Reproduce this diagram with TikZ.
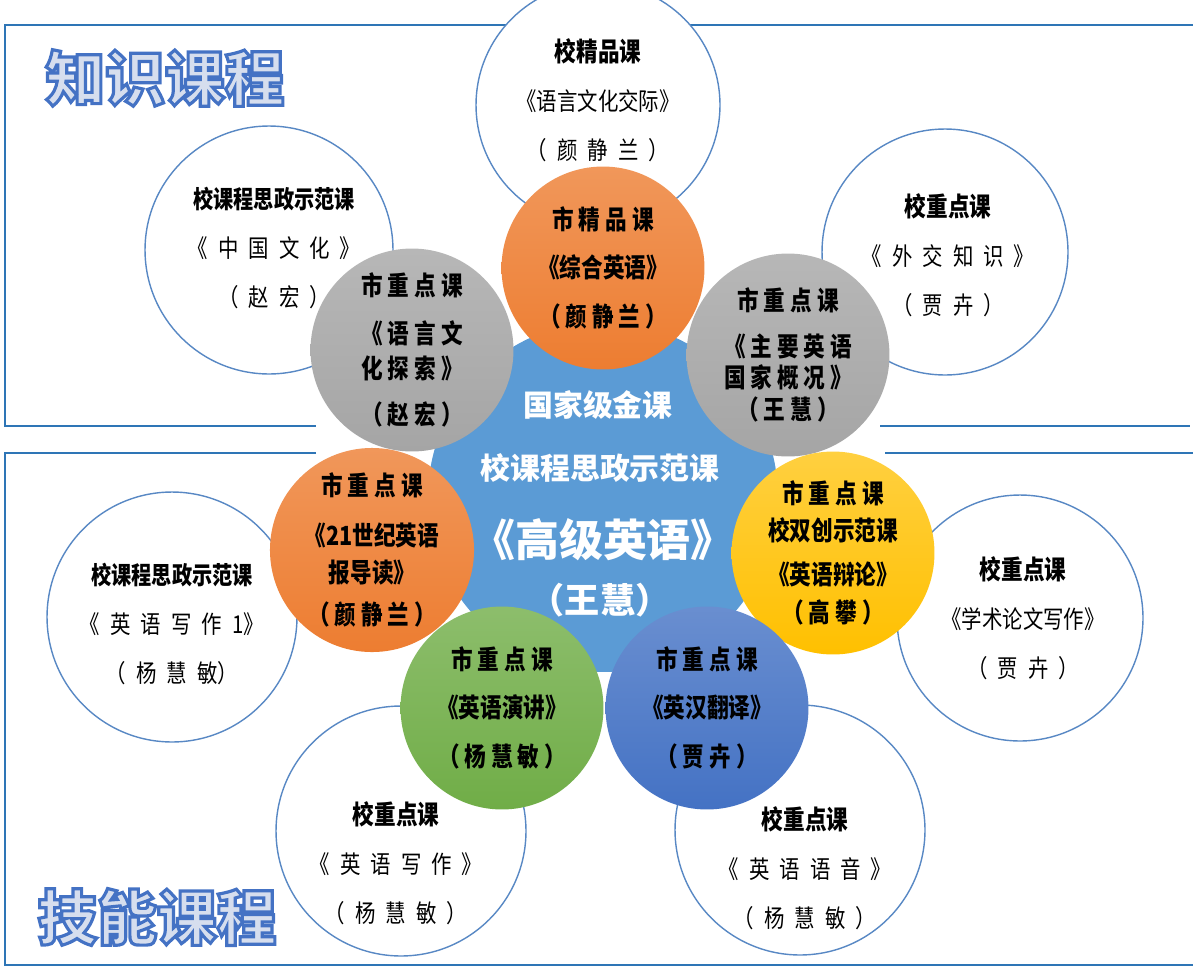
\documentclass[tikz,border=0pt]{standalone}
\usepackage{fontspec}
\setmainfont{Noto Sans CJK SC}
\newfontfamily\cjk{Noto Sans CJK SC}
\newfontfamily\cjknarrow{Noto Sans CJK SC}[FakeStretch=0.82]
\newfontfamily\cjkwide{Noto Sans CJK SC}[FakeStretch=0.83, WordSpace=2.2]
\definecolor{hubblue}{RGB}{91,155,213}
\definecolor{petalorange}{RGB}{237,125,49}
\definecolor{petalgray}{RGB}{165,165,165}
\definecolor{petalyellow}{RGB}{255,192,0}
\definecolor{petalblue}{RGB}{68,114,196}
\definecolor{petalgreen}{RGB}{112,173,71}
\definecolor{ringblue}{RGB}{88,136,196}
\definecolor{boxblue}{RGB}{46,117,182}
\definecolor{titlefill}{RGB}{214,222,238}
% outlined title letters (stroke and fill)
\newcommand{\outlined}[1]{{\color{titlefill}\special{pdf:literal direct 2 Tr 1.8 w 0.267 0.447 0.769 RG}#1\special{pdf:literal direct 0 Tr}}}

\begin{document}
\begin{tikzpicture}[x=0.02cm, y=-0.02cm]
    \tikzstyle{frame} = [draw=boxblue, line width=1.1pt];
    \tikzstyle{ring} = [circle, draw=ringblue, line width=0.8pt, fill=white, minimum size=4.92cm, inner sep=0pt];
    \tikzstyle{ringtext} = [align=center, font=\cjkwide\fontsize{14}{17}\selectfont];
    \tikzstyle{hub} = [circle, fill=hubblue, minimum size=7cm, inner sep=0pt];
    \tikzstyle{hubtext} = [text=white, font=\cjk\bfseries\fontsize{17}{20}\selectfont];
    \tikzstyle{petal} = [circle, minimum size=4.06cm, inner sep=0pt, align=center, text=black,
        font=\cjknarrow\bfseries\fontsize{15}{18}\selectfont];
    \tikzstyle{title} = [font=\cjk\bfseries\fontsize{34}{40}\selectfont];
    \useasboundingbox (0,0) rectangle (1193,967);

    % frames of the two groups
    \draw [frame] (1193,25) -- (5,25) -- (5,426) -- (316,426);
    \draw [frame] (880,426) -- (1190,426);
    \draw [frame] (316,453) -- (5,453) -- (5,965) -- (1193,965);
    \draw [frame] (885,453) -- (1193,453);

    \node [title] (know) at (165,78) {\outlined{知识课程}};
    \node [title] (skill) at (157,917) {\outlined{技能课程}};

    % school level courses
    \node [ring, minimum size=4.88cm] (lcc) at (598,105) {};
    \node [ring] (dip) at (945,252) {};
    \node [ring] (acw) at (1020,618) {};
    \node [ring, minimum size=5cm] (pho) at (800,830) {};
    \node [ring, minimum size=5cm] (wri) at (401,831) {};
    \node [ring, minimum size=5cm] (wr1) at (172,617) {};
    \node [ring, minimum size=4.96cm] (chc) at (269,250) {};

    \node [ringtext] (lcct) at (598,100) {{\cjknarrow\bfseries\fontsize{15}{17}\selectfont 校精品课}\\[11pt]《语言文化交际》\\[11pt]（ 颜 静 兰 ）};
    \node [ringtext] (dipt) at (948,255) {{\cjknarrow\bfseries\fontsize{15}{17}\selectfont 校重点课}\\[11pt]《 外 交 知 识 》\\[11pt]（ 贾 卉 ）};
    \node [ringtext] (acwt) at (1023,618) {{\cjknarrow\bfseries\fontsize{15}{17}\selectfont 校重点课}\\[11pt]《学术论文写作》\\[11pt]（ 贾 卉 ）};
    \node [ringtext] (phot) at (805,868) {{\cjknarrow\bfseries\fontsize{15}{17}\selectfont 校重点课}\\[11pt]《 英 语 语 音 》\\[11pt]（ 杨 慧 敏 ）};
    \node [ringtext] (writ) at (396,863) {{\cjknarrow\bfseries\fontsize{15}{17}\selectfont 校重点课}\\[11pt]《 英 语 写 作 》\\[11pt]（ 杨 慧 敏 ）};
    \node [ringtext] (wr1t) at (172,624) {{\cjknarrow\bfseries\fontsize{14}{17}\selectfont 校课程思政示范课}\\[11pt]《 英 语 写 作 1》\\[11pt]（ 杨 慧 敏）};
    \node [ringtext] (chct) at (274,248) {{\cjknarrow\bfseries\fontsize{14}{17}\selectfont 校课程思政示范课}\\[11pt]《 中 国 文 化 》\\[11pt]（ 赵 宏 ）};

    % national course in the middle
    \node [hub] (adv) at (603,497) {};
    \node [hubtext] (adv1) at (598,405) {国家级金课};
    \node [hubtext] (adv2) at (600,468) {校课程思政示范课};
    \node [hubtext, font=\cjk\bfseries\fontsize{25}{28}\selectfont] (adv3) at (603,540) {《高级英语》};
    \node [hubtext, font=\cjk\bfseries\fontsize{20}{24}\selectfont] (adv4) at (600,600) {（王慧）};

    % city level courses
    \node [petal, top color=petalgray!80!white, bottom color=petalgray] (lce) at (412,350)
        {市 重 点 课\\[9pt]《 语 言 文\\[2pt]化 探 索 》\\[8pt]（ 赵 宏 ）};
    \node [petal, top color=petalorange!80!white, bottom color=petalorange] (ieg) at (603,268)
        {市 精 品 课\\[9pt]《综合英语》\\[10pt]（ 颜 静 兰 ）};
    \node [petal, top color=petalgray!80!white, bottom color=petalgray] (ess) at (788,355)
        {市 重 点 课\\[8pt]《 主 要 英 语\\国 家 概 况 》\\（ 王 慧 ）};
    \node [petal, top color=petalyellow!75!white, bottom color=petalyellow] (deb) at (833,553)
        {市 重 点 课\\[3pt]校双创示范课\\[7pt]《英语辩论》\\[4pt]（ 高 攀 ）};
    \node [petal, top color=petalblue!80!white, bottom color=petalblue] (trn) at (707,708)
        {市 重 点 课\\[9pt]《英汉翻译》\\[10pt]（ 贾 卉 ）};
    \node [petal, top color=petalgreen!80!white, bottom color=petalgreen] (spk) at (502,708)
        {市 重 点 课\\[9pt]《英语演讲》\\[10pt]（ 杨 慧 敏 ）};
    \node [petal, top color=petalorange!80!white, bottom color=petalorange] (nws) at (372,550)
        {市 重 点 课\\[10pt]《21世纪英语\\[3pt]报导读》\\[6pt]（ 颜 静 兰 ）};
\end{tikzpicture}
\end{document}
